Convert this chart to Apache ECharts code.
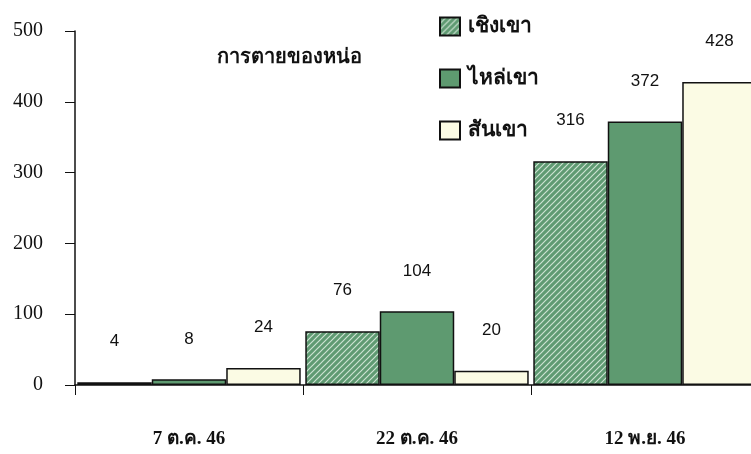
<!DOCTYPE html>
<html>
<head>
<meta charset="utf-8">
<script src="https://cdn.jsdelivr.net/npm/echarts@6/dist/echarts.min.js"></script>
<style>
  html, body { margin: 0; padding: 0; background: #fff; }
  #chart { width: 751px; height: 454px; }
</style>
</head>
<body>
<div id="chart"></div>
<script>
// Shoot mortality counts by slope position, three survey dates
const titleText = 'การตายของหน่อ';
const categories = ['7 ต.ค. 46', '22 ต.ค. 46', '12 พ.ย. 46'];
const seriesNames = ['เชิงเขา', 'ไหล่เขา', 'สันเขา'];
const footSlope = [4, 76, 316];
const shoulderSlope = [8, 104, 372];
const ridge = [24, 20, 428];
const yTicks = [0, 100, 200, 300, 400, 500];

// Diagonal hatch fill for the foot-slope bars
function hatchPattern() {
  const c = document.createElement('canvas');
  c.width = 6; c.height = 6;
  const g = c.getContext('2d');
  g.fillStyle = '#5f9a72';
  g.fillRect(0, 0, 6, 6);
  g.strokeStyle = 'rgba(225,240,228,0.85)';
  g.lineWidth = 1.2;
  g.beginPath();
  g.moveTo(-1, 7); g.lineTo(7, -1);
  g.moveTo(-1, 1); g.lineTo(1, -1);
  g.moveTo(5, 7); g.lineTo(7, 5);
  g.stroke();
  return { image: c, repeat: 'repeat' };
}

const serifFont = '"Liberation Serif", "DejaVu Serif", serif';
const labelStyle = {
  show: true,
  position: 'top',
  distance: 32,
  color: '#111',
  fontFamily: '"Liberation Sans", Arial, sans-serif',
  fontSize: 17
};

const chart = echarts.init(document.getElementById('chart'));
chart.setOption({
  backgroundColor: '#ffffff',
  animation: false,
  title: {
    text: titleText,
    left: 284,
    top: 43,
    textAlign: 'center',
    textStyle: { fontSize: 20, fontWeight: 'bold', color: '#111', fontFamily: serifFont }
  },
  legend: {
    orient: 'vertical',
    left: 434,
    top: 11,
    icon: 'rect',
    itemWidth: 20,
    itemHeight: 18,
    itemGap: 31,
    textStyle: { fontSize: 21, fontWeight: 'bold', color: '#111', fontFamily: serifFont, lineHeight: 18, padding: [0, 0, 0, 3] },
    data: seriesNames
  },
  // the last group runs slightly past the right edge of the canvas
  grid: { left: 75, top: 31, width: 684, height: 354, outerBoundsMode: 'none' },
  xAxis: {
    type: 'category',
    data: categories,
    axisLine: { lineStyle: { color: '#111', width: 1.5 } },
    axisTick: { show: true, length: 10, lineStyle: { color: '#111' } },
    axisLabel: { margin: 45, color: '#111', fontSize: 19, fontWeight: 'bold', fontFamily: serifFont }
  },
  yAxis: {
    type: 'value',
    min: yTicks[0],
    max: yTicks[yTicks.length - 1],
    interval: 100,
    axisLine: { show: true, lineStyle: { color: '#111', width: 1.5 } },
    axisTick: { show: true, length: 10, lineStyle: { color: '#111' } },
    splitLine: { show: false },
    axisLabel: { margin: 32, color: '#111', fontSize: 20, fontFamily: serifFont }
  },
  series: [
    {
      name: seriesNames[0], type: 'bar', data: footSlope,
      barGap: '0%', barCategoryGap: '2%',
      itemStyle: { color: hatchPattern(), borderColor: '#111', borderWidth: 1.5 },
      label: labelStyle
    },
    {
      name: seriesNames[1], type: 'bar', data: shoulderSlope,
      barGap: '0%', barCategoryGap: '2%',
      itemStyle: { color: '#5e9a70', borderColor: '#111', borderWidth: 1.5 },
      label: labelStyle
    },
    {
      name: seriesNames[2], type: 'bar', data: ridge,
      barGap: '0%', barCategoryGap: '2%',
      itemStyle: { color: '#fbfbe4', borderColor: '#111', borderWidth: 1.5 },
      label: labelStyle
    }
  ]
});
</script>
</body>
</html>
